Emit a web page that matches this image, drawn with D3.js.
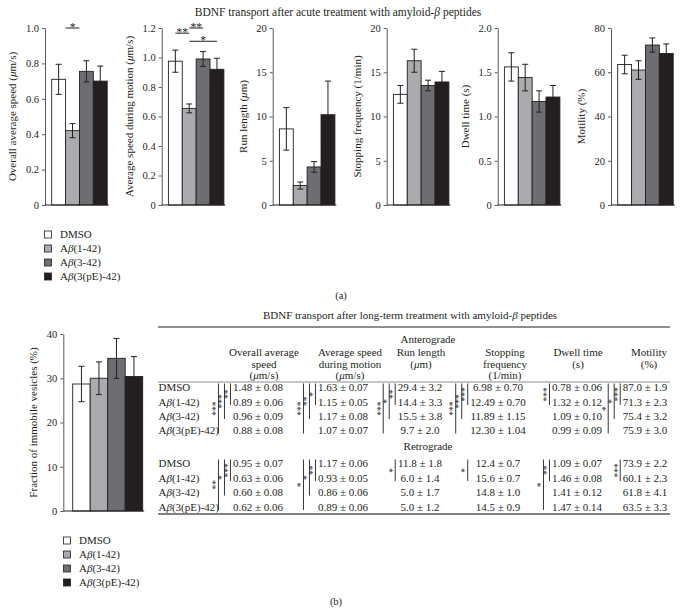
<!DOCTYPE html>
<html>
<head>
<meta charset="utf-8">
<script src="https://cdn.jsdelivr.net/npm/d3@7/dist/d3.min.js"></script>
<style>
  html,body{margin:0;padding:0;background:#fff;}
  svg{display:block;}
</style>
</head>
<body>
<svg id="chart" width="684" height="614"></svg>
<script>
// ================= DATA =================
const groups = ["DMSO", "Aβ(1-42)", "Aβ(3-42)", "Aβ(3(pE)-42)"];
const groupColors = ["#ffffff", "#a9abae", "#6d6e71", "#231f20"];

// (a) acute treatment
const acuteTitle = "BDNF transport after acute treatment with amyloid-β peptides";
const acuteLabels = ["Overall average speed (μm/s)", "Average speed during motion (μm/s)",
  "Run length (μm)", "Stopping frequency (1/min)", "Dwell time (s)", "Motility (%)"];
const overallSpeedMean = [0.71, 0.42, 0.755, 0.70];
const overallSpeedErr  = [0.085, 0.04, 0.06, 0.085];
const motionSpeedMean  = [0.975, 0.655, 0.99, 0.92];
const motionSpeedErr   = [0.075, 0.03, 0.05, 0.075];
const runLengthMean    = [8.6, 2.2, 4.3, 10.2];
const runLengthErr     = [2.4, 0.4, 0.6, 3.8];
const stopFreqMean     = [12.5, 16.3, 13.5, 13.9];
const stopFreqErr      = [1.0, 1.3, 0.6, 1.2];
const dwellMean        = [1.56, 1.44, 1.17, 1.22];
const dwellErr         = [0.16, 0.15, 0.12, 0.13];
const motilityMean     = [63.5, 61.0, 72.3, 68.5];
const motilityErr      = [4.2, 4.2, 3.2, 4.3];
const acuteMax   = [1.0, 1.2, 20, 20, 2.0, 80];
const acuteTicks = [
  [0, 0.2, 0.4, 0.6, 0.8, 1.0],
  [0, 0.2, 0.4, 0.6, 0.8, 1.0, 1.2],
  [0, 5, 10, 15, 20],
  [0, 5, 10, 15, 20],
  [0, 0.5, 1.0, 1.5, 2.0],
  [0, 20, 40, 60, 80]];
const acuteTickLabels = [
  ["0", "0.2", "0.4", "0.6", "0.8", "1.0"],
  ["0", "0.2", "0.4", "0.6", "0.8", "1.0", "1.2"],
  ["0", "5", "10", "15", "20"],
  ["0", "5", "10", "15", "20"],
  ["0", "0.5", "1.0", "1.5", "2.0"],
  ["0", "20", "40", "60", "80"]];
// significance: [chart, from (bar position), to (bar position), label, height (data units)]
const acuteSig = [[0, 0.5, 1.5, "*", 1.0], [1, 0, 1, "**", 1.165], [1, 1, 2, "**", 1.2], [1, 1, 3, "*", 1.11]];

// (b) long-term treatment
const immobileLabel = "Fraction of immobile vesicles (%)";
const immobileMean = [28.7, 30.0, 34.5, 30.4];
const immobileErr  = [4.0, 3.7, 4.5, 4.5];
const immobileTicks = [0, 10, 20, 30, 40];
const immobileTickLabels = ["0", "10", "20", "30", "40"];

const tableTitle = "BDNF transport after long-term treatment with amyloid-β peptides";
const tableHeaders = [
  ["Overall average", "speed", "(μm/s)"],
  ["Average speed", "during motion", "(μm/s)"],
  ["Run length", "(μm)"],
  ["Stopping", "frequency", "(1/min)"],
  ["Dwell time", "(s)"],
  ["Motility", "(%)"]];
const anteroValues = [
  ["1.48 ± 0.08", "1.63 ± 0.07", "29.4 ± 3.2", "6.98 ± 0.70", "0.78 ± 0.06", "87.0 ± 1.9"],
  ["0.89 ± 0.06", "1.15 ± 0.05", "14.4 ± 3.3", "12.49 ± 0.70", "1.32 ± 0.12", "71.3 ± 2.3"],
  ["0.96 ± 0.09", "1.17 ± 0.08", "15.5 ± 3.8", "11.89 ± 1.15", "1.09 ± 0.10", "75.4 ± 3.2"],
  ["0.88 ± 0.08", "1.07 ± 0.07", "9.7 ± 2.0", "12.30 ± 1.04", "0.99 ± 0.09", "75.9 ± 3.0"]];
const retroValues = [
  ["0.95 ± 0.07", "1.17 ± 0.06", "11.8 ± 1.8", "12.4 ± 0.7", "1.09 ± 0.07", "73.9 ± 2.2"],
  ["0.63 ± 0.06", "0.93 ± 0.05", "6.0 ± 1.4", "15.6 ± 0.7", "1.46 ± 0.08", "60.1 ± 2.3"],
  ["0.60 ± 0.08", "0.86 ± 0.06", "5.0 ± 1.7", "14.8 ± 1.0", "1.41 ± 0.12", "61.8 ± 4.1"],
  ["0.62 ± 0.06", "0.89 ± 0.06", "5.0 ± 1.2", "14.5 ± 0.9", "1.47 ± 0.14", "63.5 ± 3.3"]];
// brackets: [column, fromRow, toRow, label]
const anteroBrackets = [
  [0, 0, 1, "**"], [0, 0, 2, "***"], [0, 0, 3, "***"],
  [1, 0, 1, "*"], [1, 0, 2, "**"], [1, 0, 3, "***"],
  [2, 0, 1, "**"], [2, 0, 2, "*"], [2, 0, 3, "***"],
  [3, 0, 1, "***"], [3, 0, 2, "***"], [3, 0, 3, "***"],
  [4, 0, 1, "***"],
  [5, 0, 1, "***"], [5, 0, 2, "*"], [5, 0, 3, "*"]];
const retroBrackets = [
  [0, 0, 1, "***"], [0, 0, 2, "*"], [0, 0, 3, "**"],
  [1, 0, 1, "**"], [1, 0, 2, "*"], [1, 0, 3, "*"],
  [2, 0, 1, "*"],
  [3, 0, 1, "*"],
  [4, 0, 1, "**"], [4, 0, 3, "*"],
  [5, 0, 1, "***"]];

// ================= DRAWING =================
const FONT = "'Liberation Serif','Times New Roman',serif";
const INK = "#231f20";
const svg = d3.select("#chart").attr("font-family", FONT);

function rich(sel, str) {
  str.split(/([βμ])/).filter(s => s.length).forEach(p => {
    const t = sel.append("tspan").text(p);
    if (/[βμ]/.test(p)) t.attr("font-style", "italic");
  });
  return sel;
}

function barChart(o) {
  const y = d3.scaleLinear().domain([0, o.max]).range([o.bottom, o.top]);
  const x = d3.scaleBand().domain(groups).range([o.x0, o.x0 + o.w]).padding(0);
  const g = svg.append("g");
  g.selectAll("rect.bar").data(o.mean).join("rect").attr("class", "bar")
    .attr("x", (d, i) => x(groups[i])).attr("y", d => y(d))
    .attr("width", x.bandwidth()).attr("height", d => y(0) - y(d))
    .attr("fill", (d, i) => groupColors[i]).attr("stroke", INK).attr("stroke-width", 0.9);
  const eb = g.selectAll("g.err").data(o.mean).join("g").attr("class", "err");
  const cx = i => o.x0 + (i + 0.5) * x.bandwidth();
  eb.append("line").attr("x1", (d, i) => cx(i)).attr("x2", (d, i) => cx(i))
    .attr("y1", (d, i) => y(d - o.err[i])).attr("y2", (d, i) => y(d + o.err[i]));
  eb.append("line").attr("x1", (d, i) => cx(i) - 3).attr("x2", (d, i) => cx(i) + 3)
    .attr("y1", (d, i) => y(d + o.err[i])).attr("y2", (d, i) => y(d + o.err[i]));
  eb.append("line").attr("x1", (d, i) => cx(i) - 3).attr("x2", (d, i) => cx(i) + 3)
    .attr("y1", (d, i) => y(d - o.err[i])).attr("y2", (d, i) => y(d - o.err[i]));
  eb.selectAll("line").attr("stroke", INK).attr("stroke-width", 1);

  const ax = g.append("g").attr("transform", `translate(${o.axisX},0)`)
    .call(d3.axisLeft(y).tickValues(o.ticks).tickFormat((d, i) => o.tickLabels[i])
      .tickSize(3).tickSizeOuter(0).tickPadding(3));
  ax.select(".domain").attr("stroke", "#58595b").attr("stroke-width", 1);
  ax.selectAll(".tick line").attr("stroke", "#58595b");
  ax.selectAll(".tick text").attr("font-family", FONT).attr("font-size", 10.5).attr("fill", INK);
  let maxW = 0;
  ax.selectAll(".tick text").each(function () { maxW = Math.max(maxW, this.getComputedTextLength()); });

  g.append("line").attr("x1", o.axisX).attr("x2", o.x0 + o.w + 1.5)
    .attr("y1", o.bottom).attr("y2", o.bottom).attr("stroke", INK).attr("stroke-width", 1.2);

  const lbl = g.append("text")
    .attr("transform", `translate(${o.axisX - maxW - 15.5},${(o.top + o.bottom) / 2}) rotate(-90)`)
    .attr("text-anchor", "middle").attr("font-size", 11).attr("fill", INK);
  rich(lbl, o.label);
  return { x, y, cx };
}

// ---- (a) title
rich(svg.append("text").attr("x", 338).attr("y", 16).attr("text-anchor", "middle")
  .attr("font-size", 11.5).attr("fill", INK), acuteTitle);

const acuteMeans = [overallSpeedMean, motionSpeedMean, runLengthMean, stopFreqMean, dwellMean, motilityMean];
const acuteErrs = [overallSpeedErr, motionSpeedErr, runLengthErr, stopFreqErr, dwellErr, motilityErr];
const acuteAxisX = [45, 161.7, 272.7, 386.7, 497.7, 611];
const acuteCharts = acuteAxisX.map((ax, k) => barChart({
  axisX: ax, x0: ax + 6.7, w: 55.5, top: 28, bottom: 205,
  max: acuteMax[k], ticks: acuteTicks[k], tickLabels: acuteTickLabels[k],
  mean: acuteMeans[k], err: acuteErrs[k], label: acuteLabels[k]
}));

acuteSig.forEach(([c, a, b, lab, h]) => {
  const ch = acuteCharts[c];
  const yy = ch.y(h), x1 = ch.cx(a), x2 = ch.cx(b);
  svg.append("line").attr("x1", x1).attr("x2", x2).attr("y1", yy).attr("y2", yy)
    .attr("stroke", INK).attr("stroke-width", 1);
  svg.append("text").attr("x", (x1 + x2) / 2).attr("y", yy + 2.5).attr("text-anchor", "middle")
    .attr("font-size", 11.5).attr("fill", INK).text(lab);
});

function legend(x, ys) {
  groups.forEach((gname, i) => {
    svg.append("rect").attr("x", x).attr("y", ys[i] - 3.5).attr("width", 7).attr("height", 7)
      .attr("fill", groupColors[i]).attr("stroke", INK).attr("stroke-width", 0.8);
    rich(svg.append("text").attr("x", x + 15.5).attr("y", ys[i] + 3.8).attr("font-size", 11)
      .attr("fill", INK), gname);
  });
}
legend(44.5, [234.5, 248.5, 262.5, 276.5]);
svg.append("text").attr("x", 341).attr("y", 299).attr("text-anchor", "middle")
  .attr("font-size", 10.5).attr("fill", INK).text("(a)");

// ---- (b) bar chart
barChart({
  axisX: 63.3, x0: 72.7, w: 70, top: 334, bottom: 511, max: 40,
  ticks: immobileTicks, tickLabels: immobileTickLabels,
  mean: immobileMean, err: immobileErr, label: immobileLabel
});
legend(63.5, [540.5, 554.5, 568.5, 582.5]);
svg.append("text").attr("x", 336).attr("y", 604.5).attr("text-anchor", "middle")
  .attr("font-size", 10.5).attr("fill", INK).text("(b)");

// ---- (b) table
const ruleX1 = 158, ruleX2 = 670;
const colCenters = [258, 343, 420, 498, 577, 645];
const headCenters = [264, 350, 421, 505, 578, 649];
rich(svg.append("text").attr("x", 410).attr("y", 319).attr("text-anchor", "middle")
  .attr("font-size", 11).attr("fill", INK), tableTitle);
svg.append("line").attr("x1", ruleX1).attr("x2", ruleX2).attr("y1", 327).attr("y2", 327)
  .attr("stroke", INK).attr("stroke-width", 1);
svg.append("text").attr("x", 428).attr("y", 343).attr("text-anchor", "middle")
  .attr("font-size", 11).attr("fill", INK).text("Anterograde");
const headBase = [356, 367.5, 378.5];
tableHeaders.forEach((lines, c) => {
  lines.forEach((ln, j) => {
    rich(svg.append("text").attr("x", headCenters[c]).attr("y", headBase[j]).attr("text-anchor", "middle")
      .attr("font-size", 11).attr("fill", INK), ln);
  });
});
svg.append("line").attr("x1", ruleX1).attr("x2", ruleX2).attr("y1", 382).attr("y2", 382)
  .attr("stroke", "#6d6e71").attr("stroke-width", 0.8);

const anteroRows = [391, 405.5, 419.5, 434];
const retroRows = [467, 481.5, 496, 510.5];
svg.append("text").attr("x", 428).attr("y", 450).attr("text-anchor", "middle")
  .attr("font-size", 11).attr("fill", INK).text("Retrograde");

const colMaxW = colCenters.map(() => 0);
function rowsBlock(values, rowYs) {
  values.forEach((row, r) => {
    rich(svg.append("text").attr("x", ruleX1 + 0.5).attr("y", rowYs[r]).attr("font-size", 11)
      .attr("fill", INK), groups[r]);
    row.forEach((v, c) => {
      const t = svg.append("text").attr("x", colCenters[c]).attr("y", rowYs[r])
        .attr("text-anchor", "middle").attr("font-size", 11).attr("fill", INK).text(v);
      colMaxW[c] = Math.max(colMaxW[c], t.node().getComputedTextLength());
    });
  });
}
rowsBlock(anteroValues, anteroRows);
rowsBlock(retroValues, retroRows);
svg.append("line").attr("x1", ruleX1).attr("x2", ruleX2).attr("y1", 514).attr("y2", 514)
  .attr("stroke", "#58595b").attr("stroke-width", 1.3);

function brackets(list, rowYs) {
  const byCol = d3.group(list, d => d[0]);
  byCol.forEach((arr, col) => {
    const left = colCenters[col] - colMaxW[col] / 2;
    arr.slice().sort((a, b) => (a[2] - a[1]) - (b[2] - b[1])).forEach((bk, lvl) => {
      const lx = left - 2.5 - lvl * 6;
      const y1 = rowYs[bk[1]] - 7.5, y2 = rowYs[bk[2]] - 0.5;
      svg.append("line").attr("x1", lx).attr("x2", lx).attr("y1", y1).attr("y2", y2)
        .attr("stroke", INK).attr("stroke-width", 0.9);
      svg.append("text").attr("transform", `translate(${lx + 0.3},${(y1 + y2) / 2}) rotate(-90)`)
        .attr("text-anchor", "middle").attr("font-size", 9.5).attr("fill", INK).text(bk[3]);
    });
  });
}
brackets(anteroBrackets, anteroRows);
brackets(retroBrackets, retroRows);
</script>
</body>
</html>
